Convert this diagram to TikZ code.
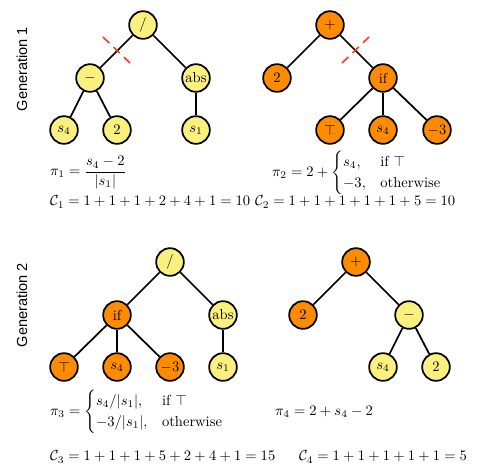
\documentclass[tikz,border=0pt]{standalone}
\usepackage{amsmath, amssymb}
\usepackage{fontspec}
\newfontfamily\genfont{Liberation Sans}
\usepackage{tikz}
\usetikzlibrary{positioning}
\definecolor{nodeyellow}{HTML}{FAF07D}
\definecolor{nodeorange}{HTML}{FF8C00}
\definecolor{cutred}{HTML}{FF3A1E}

\begin{document}
\begin{tikzpicture}[x=0.687pt, y=-0.687pt,
    gnode/.style={circle, draw, line width=1.2pt, minimum size=19pt, inner sep=0pt},
    yel/.style={gnode, fill=nodeyellow},
    org/.style={gnode, fill=nodeorange},
    edge/.style={line width=1.2pt},
    cutmark/.style={draw=cutred, line width=1.1pt, dash pattern=on 6pt off 4pt}]
    \useasboundingbox (0,0) rectangle (485,473);

    % generation labels
    \node[rotate=90, font=\genfont] (gen1) at (22,69) {Generation 1};
    \node[rotate=90, font=\genfont] (gen2) at (22,305) {Generation 2};

    % generation 1, first program
    \node[yel] (a) at (143,25) {$/$};
    \node[yel] (am) at (90,78) {$-$};
    \node[yel] (aabs) at (196,78) {abs};
    \node[yel] (as4) at (64,130) {$s_4$};
    \node[yel] (atwo) at (117,130) {$2$};
    \node[yel] (as1) at (196,130) {$s_1$};
    \draw[edge] (a) -- (am);
    \draw[edge] (a) -- (aabs);
    \draw[edge] (am) -- (as4);
    \draw[edge] (am) -- (atwo);
    \draw[edge] (aabs) -- (as1);
    \draw[cutmark] (103,37) -- (130,63);

    % generation 1, second program
    \node[org] (b) at (330,25) {$+$};
    \node[org] (btwo) at (277,78) {$2$};
    \node[org] (bif) at (383,78) {if};
    \node[org] (btop) at (330,130) {$\top$};
    \node[org] (bs4) at (383,130) {$s_4$};
    \node[org] (bm3) at (437,130) {$-3$};
    \draw[edge] (b) -- (btwo);
    \draw[edge] (b) -- (bif);
    \draw[edge] (bif) -- (btop);
    \draw[edge] (bif) -- (bs4);
    \draw[edge] (bif) -- (bm3);
    \draw[cutmark] (342,63) -- (369,37);

    \node[anchor=west] (pi1) at (45,173) {$\pi_1 = \dfrac{s_4-2}{|s_1|}$};
    \node[anchor=west] (pi2) at (267,173) {$\pi_2 = 2 + \begin{cases} s_4, & \text{if } \top\\ -3, & \text{otherwise}\end{cases}$};
    \node[anchor=west] (c1) at (45,202) {$\mathcal{C}_1 = 1+1+1+2+4+1 = 10$};
    \node[anchor=west] (c2) at (250,202) {$\mathcal{C}_2 = 1+1+1+1+1+5 = 10$};

    % generation 2, first program
    \node[yel] (c) at (170,262) {$/$};
    \node[org] (cif) at (117,315) {if};
    \node[yel] (cabs) at (223,315) {abs};
    \node[org] (ctop) at (64,367) {$\top$};
    \node[org] (cs4) at (117,367) {$s_4$};
    \node[org] (cm3) at (170,367) {$-3$};
    \node[yel] (cs1) at (223,367) {$s_1$};
    \draw[edge] (c) -- (cif);
    \draw[edge] (c) -- (cabs);
    \draw[edge] (cif) -- (ctop);
    \draw[edge] (cif) -- (cs4);
    \draw[edge] (cif) -- (cm3);
    \draw[edge] (cabs) -- (cs1);

    % generation 2, second program
    \node[org] (d) at (356,262) {$+$};
    \node[org] (dtwo) at (303,315) {$2$};
    \node[yel] (dm) at (409,315) {$-$};
    \node[yel] (ds4) at (383,367) {$s_4$};
    \node[yel] (dtwob) at (436,367) {$2$};
    \draw[edge] (d) -- (dtwo);
    \draw[edge] (d) -- (dm);
    \draw[edge] (dm) -- (ds4);
    \draw[edge] (dm) -- (dtwob);

    \node[anchor=west] (pi3) at (45,412) {$\pi_3 = \begin{cases} s_4/|s_1|, & \text{if } \top\\ -3/|s_1|, & \text{otherwise}\end{cases}$};
    \node[anchor=west] (pi4) at (270,412) {$\pi_4 = 2 + s_4 - 2$};
    \node[anchor=west] (c3) at (45,457) {$\mathcal{C}_3 = 1+1+1+5+2+4+1 = 15$};
    \node[anchor=west] (c4) at (294,457) {$\mathcal{C}_4 = 1+1+1+1+1 = 5$};
\end{tikzpicture}
\end{document}
